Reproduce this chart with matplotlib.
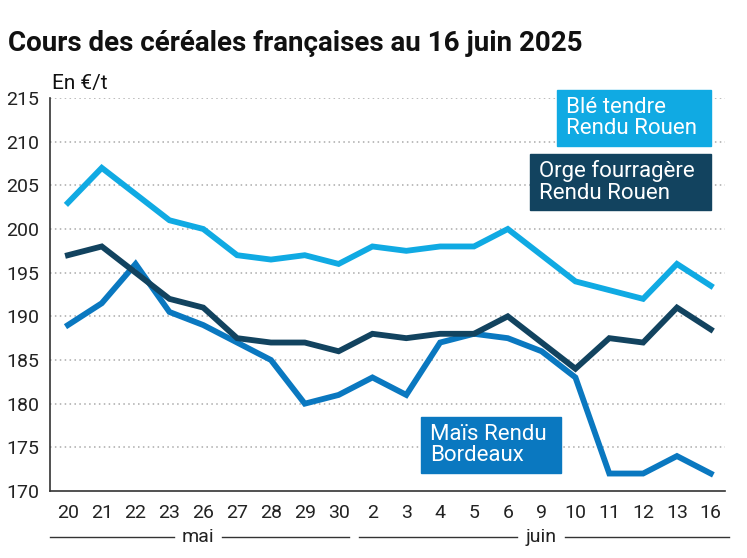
import matplotlib
matplotlib.use("Agg")
import matplotlib.pyplot as plt
from matplotlib.lines import Line2D

plt.rcParams['font.family'] = ['Roboto', 'DejaVu Sans']

# --- data ---
days = ["20", "21", "22", "23", "26", "27", "28", "29", "30",
        "2", "3", "4", "5", "6", "9", "10", "11", "12", "13", "16"]
ble = [203, 207, 204, 201, 200, 197, 196.5, 197, 196,
       198, 197.5, 198, 198, 200, 197, 194, 193, 192, 196, 193.5]
orge = [197, 198, 195, 192, 191, 187.5, 187, 187, 186,
        188, 187.5, 188, 188, 190, 187, 184, 187.5, 187, 191, 188.5]
mais = [189, 191.5, 196, 190.5, 189, 187, 185, 180, 181,
        183, 181, 187, 188, 187.5, 186, 183, 172, 172, 174, 172]
yticks = [170, 175, 180, 185, 190, 195, 200, 205, 210, 215]

c_ble = "#10aae3"
c_orge = "#12435f"
c_mais = "#0a78c0"

W, H = 747, 558
fig = plt.figure(figsize=(W / 100, H / 100), dpi=100)
ax = fig.add_axes([50 / W, 1 - 491 / H, (725 - 50) / W, (491 - 98) / H])

x = list(range(len(days)))
lw = 4.2
ax.plot(x, orge, color=c_orge, lw=lw, solid_joinstyle="miter", zorder=3)
ax.plot(x, ble, color=c_ble, lw=lw, solid_joinstyle="miter", zorder=3)
ax.plot(x, mais, color=c_mais, lw=lw, solid_joinstyle="miter", zorder=2)

ax.set_xlim(-0.53, 19.42)
ax.set_ylim(170, 215)
ax.set_yticks(yticks)
ax.set_xticks(x)
ax.set_xticklabels(days)
ax.tick_params(axis="both", length=0, labelsize=14, colors="#222222")
ax.tick_params(axis="x", pad=9)
ax.tick_params(axis="y", pad=8)

for y in yticks[1:]:
    ax.axhline(y, color="#aaaaaa", lw=1.1, ls=(0, (1, 2.2)), zorder=1)

for s in ["top", "right"]:
    ax.spines[s].set_visible(False)
ax.spines["left"].set_color("#333333")
ax.spines["bottom"].set_color("#333333")
ax.spines["left"].set_linewidth(1.2)
ax.spines["bottom"].set_linewidth(1.2)

# title and unit
fig.text(8 / W, 1 - 51 / H, "Cours des céréales françaises au 16 juin 2025",
         fontsize=20, fontweight="bold", color="#111111")
fig.text(52 / W, 1 - 89 / H, "En €/t", fontsize=15, color="#111111")

# series labels as boxes
def label_box(x0, y0, x1, y1, text, color):
    fig.patches.append(plt.Rectangle((x0 / W, 1 - y1 / H), (x1 - x0) / W, (y1 - y0) / H,
                                     transform=fig.transFigure, color=color, zorder=5))
    fig.text((x0 + 9) / W, 1 - (y0 + y1) / 2 / H, text, fontsize=16, color="white",
             va="center", ha="left", linespacing=1.05, zorder=6)

label_box(557, 90, 711, 146, "Blé tendre\nRendu Rouen", c_ble)
label_box(530, 154, 711, 210, "Orge fourragère\nRendu Rouen", c_orge)
label_box(421, 417, 561, 473, "Maïs Rendu\nBordeaux", c_mais)

# month brackets
yl = 1 - 537 / H
for (a, b) in [(50, 174), (222, 349), (359, 517), (565, 729)]:
    fig.add_artist(Line2D([a / W, b / W], [yl, yl], color="#333333", lw=1.0))
fig.text(198 / W, yl, "mai", fontsize=14, ha="center", va="center", color="#222222")
fig.text(541 / W, yl, "juin", fontsize=14, ha="center", va="center", color="#222222")

fig.savefig("out.png", dpi=100)
